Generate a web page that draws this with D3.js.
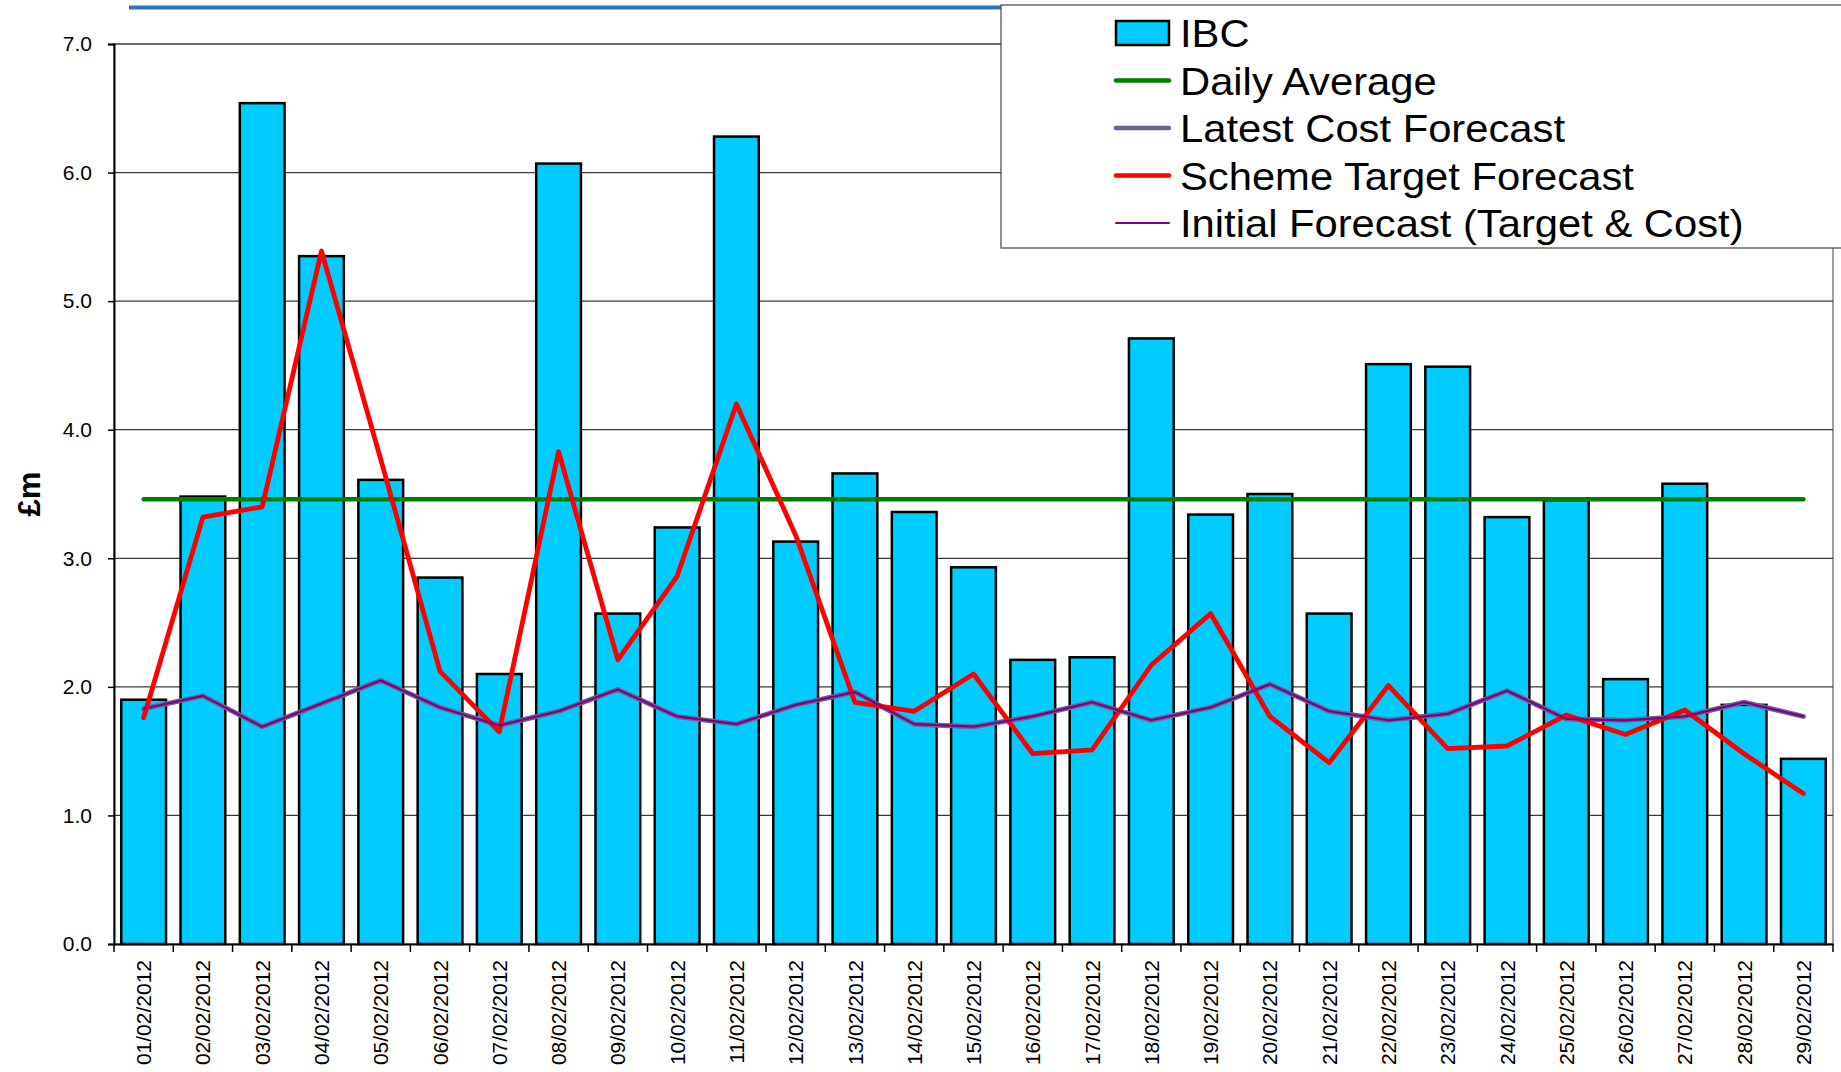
<!DOCTYPE html>
<html><head><meta charset="utf-8">
<script src="https://cdn.jsdelivr.net/npm/d3@7"></script>
<style>
body{margin:0;background:#fff}
svg{display:block}
text{font-family:"Liberation Sans",Arial,Helvetica,sans-serif;fill:#000}
</style>
</head><body>
<svg id="chart" width="1841" height="1072"></svg>
<script>
const categories = ["01/02/2012","02/02/2012","03/02/2012","04/02/2012","05/02/2012","06/02/2012","07/02/2012",
"08/02/2012","09/02/2012","10/02/2012","11/02/2012","12/02/2012","13/02/2012","14/02/2012","15/02/2012",
"16/02/2012","17/02/2012","18/02/2012","19/02/2012","20/02/2012","21/02/2012","22/02/2012","23/02/2012",
"24/02/2012","25/02/2012","26/02/2012","27/02/2012","28/02/2012","29/02/2012"];

const ibc = [1.90,3.48,6.54,5.35,3.61,2.85,2.10,6.07,2.57,3.24,6.28,3.13,3.66,3.36,2.93,
2.21,2.23,4.71,3.34,3.50,2.57,4.51,4.49,3.32,3.45,2.06,3.58,1.86,1.44];

const dailyAverage = 3.46;

const latestCostForecast = [1.83,1.93,1.69,1.87,2.05,1.84,1.70,1.81,1.98,1.77,1.71,1.86,1.96,1.71,1.69,
1.77,1.88,1.74,1.84,2.02,1.81,1.74,1.79,1.97,1.75,1.74,1.77,1.88,1.77];

const schemeTargetForecast = [1.76,3.32,3.40,5.39,3.77,2.12,1.65,3.83,2.21,2.86,4.20,3.18,1.88,1.81,2.10,
1.48,1.51,2.17,2.57,1.77,1.41,2.01,1.52,1.54,1.78,1.63,1.82,1.48,1.17];

const initialForecast = [1.83,1.93,1.69,1.87,2.05,1.84,1.70,1.81,1.98,1.77,1.71,1.86,1.96,1.71,1.69,
1.77,1.88,1.74,1.84,2.02,1.81,1.74,1.79,1.97,1.75,1.74,1.77,1.88,1.77];

const yTicks = [0,1,2,3,4,5,6,7];
const yAxisTitle = "£m";
const legendItems = [
  {label:"IBC", type:"rect", color:"#00CCFF"},
  {label:"Daily Average", type:"line", color:"#008000", width:4.5},
  {label:"Latest Cost Forecast", type:"line", color:"#666699", width:4.5},
  {label:"Scheme Target Forecast", type:"line", color:"#FF0000", width:4.5},
  {label:"Initial Forecast (Target & Cost)", type:"line", color:"#800080", width:2}
];

const svg = d3.select("#chart");
const L = 114, R = 1833, T = 44, B = 944;

const x = d3.scaleBand().domain(categories).range([L, R]).paddingInner(0).paddingOuter(0);
const y = d3.scaleLinear().domain([0, 7]).range([B, T]);
const cx = d => x(d) + x.bandwidth() / 2;

// decorative top rule
svg.append("line").attr("x1", 129).attr("x2", 1010).attr("y1", 7.5).attr("y2", 7.5)
  .attr("stroke", "#2E75C0").attr("stroke-width", 4);

// plot border
svg.append("rect").attr("x", L).attr("y", T).attr("width", R - L).attr("height", B - T)
  .attr("fill", "none").attr("stroke", "#808080").attr("stroke-width", 1.5);

// gridlines
svg.append("g").selectAll("line").data(yTicks.filter(v => v > 0)).join("line")
  .attr("x1", L).attr("x2", R).attr("y1", d => y(d)).attr("y2", d => y(d))
  .attr("stroke", "#3a3a3a").attr("stroke-width", 1.2);

// bars
const bw = x.bandwidth() * 0.755;
svg.append("g").selectAll("rect").data(categories).join("rect")
  .attr("x", d => cx(d) - bw / 2)
  .attr("y", (d, i) => y(ibc[i]))
  .attr("width", bw)
  .attr("height", (d, i) => y(0) - y(ibc[i]))
  .attr("fill", "#00CCFF").attr("stroke", "#000").attr("stroke-width", 2.5);

// lines
const lineGen = arr => d3.line().x((d, i) => cx(categories[i])).y(d => y(d))(arr);

svg.append("line")
  .attr("x1", cx(categories[0])).attr("x2", cx(categories[categories.length - 1]))
  .attr("y1", y(dailyAverage)).attr("y2", y(dailyAverage))
  .attr("stroke", "#008000").attr("stroke-width", 4.5).attr("stroke-linecap", "round");

svg.append("path").attr("d", lineGen(latestCostForecast)).attr("fill", "none")
  .attr("stroke", "#666699").attr("stroke-width", 5).attr("stroke-linejoin", "round").attr("stroke-linecap", "round");

svg.append("path").attr("d", lineGen(schemeTargetForecast)).attr("fill", "none")
  .attr("stroke", "#FF0000").attr("stroke-width", 4.8).attr("stroke-linejoin", "round").attr("stroke-linecap", "round");

svg.append("path").attr("d", lineGen(initialForecast)).attr("fill", "none")
  .attr("stroke", "#800080").attr("stroke-width", 2.2).attr("stroke-linejoin", "round").attr("stroke-linecap", "round");

// y axis
const yAxis = svg.append("g").attr("transform", `translate(${L},0)`)
  .call(d3.axisLeft(y).tickValues(yTicks).tickSize(6).tickPadding(16).tickFormat(d3.format(".1f")));
yAxis.select(".domain").attr("stroke", "#000").attr("stroke-width", 2);
yAxis.selectAll(".tick line").attr("stroke", "#000").attr("stroke-width", 1.5);
yAxis.selectAll(".tick text").attr("font-size", 21).attr("font-family", "Liberation Sans, Arial, sans-serif").attr("fill", "#000");

// x axis
const xAxis = svg.append("g").attr("transform", `translate(0,${B})`)
  .call(d3.axisBottom(x).tickSize(0).tickPadding(0));
xAxis.select(".domain").attr("stroke", "#000").attr("stroke-width", 2);
xAxis.selectAll(".tick text")
  .attr("transform", "rotate(-90)")
  .attr("x", -16).attr("y", 0).attr("dy", "0.36em")
  .attr("text-anchor", "end")
  .attr("font-size", 21).attr("font-family", "Liberation Sans, Arial, sans-serif").attr("fill", "#000");
// boundary tick marks
svg.append("g").selectAll("line").data(categories.map(d => x(d)).concat([R])).join("line")
  .attr("x1", d => d).attr("x2", d => d).attr("y1", B).attr("y2", B + 8)
  .attr("stroke", "#000").attr("stroke-width", 1.5);

// y axis title
svg.append("text").attr("transform", "translate(40,494) rotate(-90)")
  .attr("text-anchor", "middle").attr("font-weight", "bold").attr("font-size", 31)
  .text(yAxisTitle);

// legend
const lg = svg.append("g");
lg.append("rect").attr("x", 1001).attr("y", 5).attr("width", 860).attr("height", 243)
  .attr("fill", "#fff").attr("stroke", "#444").attr("stroke-width", 1.2);
const rowY = i => 33 + i * 47.5;
legendItems.forEach((it, i) => {
  const g = lg.append("g");
  if (it.type === "rect") {
    g.append("rect").attr("x", 1116).attr("y", rowY(i) - 12).attr("width", 53).attr("height", 24)
      .attr("fill", it.color).attr("stroke", "#000").attr("stroke-width", 2.5);
  } else {
    g.append("line").attr("x1", 1116).attr("x2", 1169).attr("y1", rowY(i)).attr("y2", rowY(i))
      .attr("stroke", it.color).attr("stroke-width", it.width).attr("stroke-linecap", "round");
  }
  const t = g.append("text").attr("x", 1180).attr("y", rowY(i)).attr("dy", "0.36em")
    .attr("font-size", 39).text(it.label);
  const w = t.node().getComputedTextLength();
  t.attr("textLength", w * 1.07).attr("lengthAdjust", "spacingAndGlyphs");
});
</script>
</body></html>
